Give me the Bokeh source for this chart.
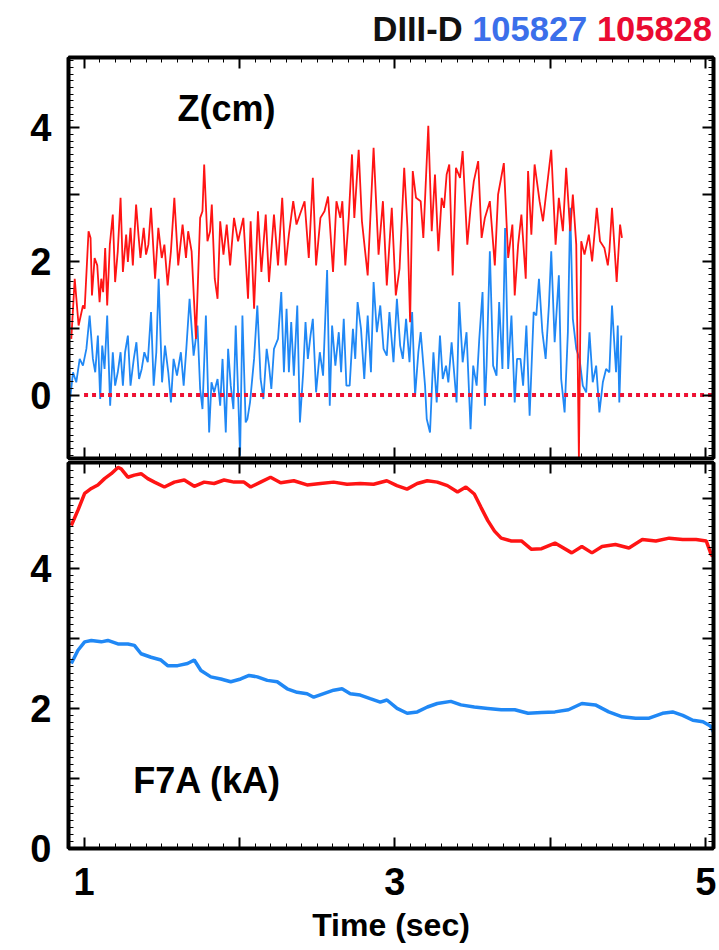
from bokeh.plotting import figure
from bokeh.models import Range1d, LinearAxis, FixedTicker, Label, Div
from bokeh.layouts import column
from bokeh.embed import file_html
from bokeh.resources import INLINE

# ---------------- data ----------------
# Z (cm), shot 105828 (red)
z_red_t = [0.918,0.940,0.965,0.993,1.004,1.029,1.042,1.051,1.068,1.085,1.100,1.111,1.123,1.136,1.149,1.166,1.185,1.200,1.217,1.235,
           1.250,1.271,1.282,1.299,1.314,1.335,1.350,1.363,1.384,1.399,1.414,1.431,1.457,1.478,1.500,1.517,1.538,1.559,1.581,1.606,
           1.634,1.656,1.670,1.692,1.720,1.747,1.762,1.773,1.794,1.811,1.822,1.841,1.859,1.876,1.897,1.918,1.940,1.965,1.991,2.025,2.055,
           2.072,2.094,2.119,2.141,2.169,2.190,2.222,2.248,2.275,2.297,2.318,2.346,2.367,2.389,2.419,2.446,2.472,2.493,2.521,2.547,
           2.570,2.602,2.624,2.649,2.662,2.681,2.703,2.724,2.739,2.767,2.788,2.825,2.863,2.895,2.923,2.948,2.980,3.006,3.030,3.060,
           3.081,3.098,3.115,3.136,3.166,3.183,3.215,
           3.237,3.258,3.280,3.301,3.316,3.333,3.350,3.372,3.393,3.419,3.436,3.466,3.487,3.508,3.536,3.558,3.579,3.611,3.643,3.664,
           3.701,3.729,3.756,3.771,3.793,3.814,3.842,3.857,3.878,3.899,3.931,3.953,3.970,4.006,4.034,4.055,4.081,4.102,4.128,4.145,
           4.167,4.184,4.199,4.220,4.248,4.269,4.299,4.320,4.348,4.370,4.380,4.397,4.427,4.449,4.461]
z_red = [0.84,1.74,1.04,1.34,1.29,2.45,2.35,1.49,2.05,1.94,1.39,1.74,1.54,2.20,1.34,2.25,2.70,1.69,2.15,2.95,
         1.84,2.40,1.99,2.50,1.94,2.85,2.40,2.05,2.50,2.10,2.25,2.80,1.74,2.50,2.05,2.25,1.64,2.15,2.95,1.94,
         2.55,2.05,2.45,2.15,0.84,2.65,2.75,3.45,2.30,2.45,2.85,1.74,1.44,2.60,2.10,2.55,1.94,2.65,2.30,2.65,1.44,
         2.60,1.29,2.75,1.84,2.70,1.69,2.70,1.94,2.95,1.94,2.40,2.90,2.55,2.70,2.90,2.05,3.25,1.94,2.65,2.75,
         2.97,1.84,2.90,2.65,2.90,1.94,2.65,3.60,2.65,3.67,2.60,1.79,3.70,2.10,2.90,1.64,2.80,1.49,1.89,3.40,
         2.50,1.09,3.35,2.95,2.90,2.35,4.03,
         2.45,3.30,2.15,2.95,2.80,3.30,3.45,1.79,3.40,3.25,3.65,2.25,2.80,3.20,3.50,2.35,2.65,2.90,1.94,3.00,
         3.47,2.05,2.55,1.49,2.25,2.70,1.74,3.35,2.40,3.45,2.90,2.60,2.95,3.67,2.25,2.95,2.45,3.40,2.45,3.00,
         2.25,-0.96,2.30,2.10,2.40,2.00,2.80,2.30,2.20,1.94,2.15,2.80,1.69,2.55,2.35]

# Z (cm), shot 105827 (blue)
z_blue_t = [0.908,0.929,0.950,0.972,0.993,1.015,1.036,1.057,1.072,1.089,1.104,1.117,1.132,1.149,1.168,1.185,1.200,1.217,1.235,1.250,
            1.264,1.282,1.299,1.320,1.337,1.354,1.371,1.388,1.410,1.431,1.448,1.465,1.480,1.502,1.521,1.542,1.559,1.576,1.598,1.623,
            1.641,1.658,1.679,1.705,1.730,1.747,1.762,1.784,1.805,1.820,1.837,1.859,1.876,1.891,1.912,1.927,1.944,1.961,1.976,1.991,
            2.004,2.019,2.040,
            2.051,2.068,2.094,2.115,2.136,2.154,2.175,2.190,2.205,2.222,2.248,2.269,2.286,2.303,2.318,2.333,2.350,2.372,2.389,2.410,
            2.425,2.440,2.457,2.472,2.493,2.517,2.538,2.564,2.581,2.596,2.617,2.639,2.654,2.671,2.688,2.709,2.730,2.745,2.760,2.782,
            2.803,2.825,2.846,2.863,2.884,2.906,2.927,2.948,2.965,2.991,3.013,3.034,3.051,3.072,3.094,3.111,3.130,3.151,3.166,3.194,
            3.205,3.226,3.248,3.269,3.290,3.308,3.329,3.344,3.365,3.397,3.414,3.436,3.461,3.487,3.504,3.526,3.543,3.564,3.579,3.590,
            3.611,3.632,3.654,3.671,3.692,3.709,3.729,3.750,3.771,3.786,3.808,3.825,3.846,3.867,3.893,3.910,3.927,3.949,3.970,3.991,
            4.006,4.028,4.055,4.070,4.092,4.113,4.128,4.145,4.167,4.188,4.209,4.231,4.252,4.273,4.295,4.316,4.338,4.359,4.380,4.397,
            4.423,4.434,4.444,4.457]
z_blue = [-0.11,0.34,0.19,0.54,0.44,0.69,1.19,0.54,0.34,0.89,-0.06,0.74,0.39,1.19,-0.16,0.64,0.14,0.34,0.64,0.14,
          0.64,0.89,0.14,0.54,0.79,0.24,0.39,0.64,0.49,1.24,0.14,0.64,1.74,0.19,0.74,0.34,-0.11,0.54,0.29,0.64,
          0.14,0.69,1.44,0.59,1.04,0.09,-0.21,1.19,-0.56,0.19,0.04,0.24,-0.16,0.54,-0.56,0.69,0.14,-0.21,1.04,0.04,
          -0.91,1.19,-0.41,
          -0.36,-0.11,0.54,1.34,0.24,-0.06,0.69,0.44,0.09,0.69,0.84,1.54,0.34,1.29,0.34,1.09,0.29,1.34,-0.41,0.34,
          1.09,0.54,0.89,1.14,0.04,0.64,0.29,1.87,-0.16,1.04,0.44,0.94,0.34,1.14,0.14,0.14,0.99,0.54,1.39,0.99,
          0.24,1.19,0.34,1.69,0.94,1.34,0.69,0.59,1.24,0.49,1.44,0.74,0.54,1.14,0.49,1.24,-0.01,0.64,0.94,0.14,
          -0.36,-0.56,0.64,-0.11,0.89,0.24,0.44,0.19,0.79,-0.11,1.39,0.49,0.94,-0.51,0.44,0.14,0.84,1.54,-0.16,0.44,
          2.15,0.44,0.29,1.39,0.39,2.50,0.39,1.19,-0.11,0.54,0.54,0.14,1.04,-0.31,1.24,1.19,1.74,0.94,0.54,1.34,
          2.15,0.79,1.79,0.24,-0.26,0.94,2.80,1.14,0.69,0.54,0.14,0.04,0.94,0.19,0.44,-0.26,0.19,0.39,0.34,1.34,
          0.34,1.04,-0.11,0.89]

# F7A (kA), shot 105828 (red)
f7a_red_t = [0.918,0.961,1.004,1.047,1.089,1.132,1.175,1.218,1.239,1.282,1.324,1.367,1.410,1.453,1.517,1.581,1.645,1.709,1.773,1.837,
             1.901,1.965,2.029,2.072,2.136,2.200,2.265,2.350,2.435,2.521,2.606,2.692,2.777,2.863,2.948,
             3.013,3.078,3.144,3.208,3.273,3.338,3.403,3.457,3.511,3.554,3.598,3.641,3.684,3.749,3.814,3.879,3.944,4.030,4.138,4.203,
             4.268,4.333,4.419,4.506,4.592,4.679,4.765,4.852,4.938,5.003,5.036,5.090]
f7a_red = [4.61,4.83,5.07,5.14,5.19,5.28,5.35,5.44,5.42,5.30,5.33,5.35,5.28,5.23,5.16,5.23,5.26,5.17,5.23,5.21,
           5.26,5.23,5.23,5.16,5.23,5.30,5.22,5.25,5.19,5.21,5.23,5.20,5.21,5.20,5.25,
           5.18,5.13,5.21,5.25,5.23,5.18,5.09,5.16,5.06,4.87,4.68,4.53,4.43,4.39,4.39,4.27,4.28,4.36,4.22,4.31,
           4.22,4.31,4.34,4.29,4.41,4.39,4.43,4.41,4.41,4.39,4.19,4.12]

# F7A (kA), shot 105827 (blue)
f7a_blue_t = [0.918,0.961,1.004,1.047,1.111,1.153,1.218,1.282,1.324,1.367,1.431,1.495,1.538,1.602,1.666,1.709,1.752,1.816,1.880,1.944,
              2.008,2.062,2.115,2.179,2.243,2.307,2.371,2.435,2.478,2.542,2.606,2.660,2.713,2.777,2.841,2.906,
              2.949,3.014,3.079,3.144,3.209,3.273,3.360,3.425,3.511,3.598,3.684,3.771,3.857,3.944,4.030,4.117,4.203,4.290,4.376,4.463,
              4.549,4.636,4.722,4.787,4.852,4.917,4.982,5.030,5.060]
f7a_blue = [2.64,2.83,2.95,2.97,2.95,2.97,2.92,2.92,2.90,2.78,2.73,2.69,2.61,2.61,2.64,2.69,2.54,2.45,2.42,2.38,
            2.42,2.47,2.45,2.40,2.38,2.28,2.23,2.21,2.16,2.21,2.26,2.28,2.21,2.19,2.14,2.09,
            2.12,2.00,1.93,1.95,2.02,2.07,2.10,2.05,2.02,2.00,1.98,1.98,1.93,1.94,1.95,1.98,2.07,2.05,1.95,1.88,
            1.86,1.86,1.93,1.95,1.90,1.83,1.81,1.75,1.62]

zero_level = 0.0
zero_line_start = 1.0

x_major = [1, 2, 3, 4, 5]
x_labels = {1: "1", 2: "", 3: "3", 4: "", 5: "5"}
z_major = [0, 1, 2, 3, 4]
z_labels = {0: "0", 1: "", 2: "2", 3: "", 4: "4"}
f_major = [0, 1, 2, 3, 4, 5]
f_labels = {0: "0", 1: "", 2: "2", 3: "", 4: "4", 5: ""}

title_parts = ["DIII-D", "105827", "105828"]
title_colors = ["#111111", "#3B6FEA", "#EA0A32"]

# ---------------- style ----------------
FONT = "Liberation Sans"
RED = "#FF1414"
BLUE = "#2088F5"
X0, X1 = 0.9, 5.05
W = 719

xr = Range1d(X0, X1)
x_minor = [round(0.9 + 0.1 * i, 2) for i in range(42)]


def style_axis(ax, show_labels, standoff=17):
    ax.axis_line_width = 4
    ax.axis_line_color = "black"
    ax.major_tick_in = 11
    ax.major_tick_out = 0
    ax.minor_tick_in = 5
    ax.minor_tick_out = 0
    ax.major_tick_line_width = 2
    ax.major_tick_line_color = "black"
    ax.minor_tick_line_width = 1
    ax.minor_tick_line_color = "black"
    ax.major_label_text_font = FONT
    ax.major_label_text_font_style = "bold"
    if show_labels:
        ax.major_label_text_color = "black"
        ax.major_label_text_font_size = "38px"
        ax.major_label_standoff = standoff
    else:
        ax.major_label_text_color = None
        ax.major_label_text_font_size = "0px"
        ax.major_label_standoff = 0


def make_fig(height, yr, border_top, border_bottom):
    p = figure(width=W, height=height, x_range=xr, y_range=yr,
               output_backend="svg", toolbar_location=None,
               x_axis_location=None, y_axis_location=None,
               min_border_left=68, min_border_right=6,
               min_border_top=border_top, min_border_bottom=border_bottom)
    p.grid.visible = False
    p.outline_line_color = "black"
    p.outline_line_width = 3
    p.background_fill_color = "white"
    p.border_fill_color = "white"
    return p


# ---------------- title (multi-coloured) ----------------
title_html = ('<div style="padding-top:9px;padding-right:7px;">'
              + " ".join('<span style="color:%s">%s</span>' % (c, t)
                         for t, c in zip(title_parts, title_colors))
              + "</div>")
title = Div(text=title_html, width=W, height=50, margin=0,
            styles={"text-align": "right", "font-family": "'Liberation Sans', sans-serif",
                    "font-weight": "bold", "font-size": "34.5px", "line-height": "40px",
                    "white-space": "nowrap"})

# ---------------- top panel: Z(cm) ----------------
p1 = make_fig(410, Range1d(-0.95, 5.05), 7, 2)
z_ticker = FixedTicker(ticks=z_major, minor_ticks=[round(-0.9 + 0.1 * i, 2) for i in range(60)])
xt = FixedTicker(ticks=x_major, minor_ticks=x_minor)
for loc, show in (("left", True), ("right", False)):
    ax = LinearAxis(ticker=z_ticker)
    style_axis(ax, show)
    if show:
        ax.major_label_overrides = z_labels
    p1.add_layout(ax, loc)
for loc in ("above", "below"):
    ax = LinearAxis(ticker=xt)
    style_axis(ax, False)
    p1.add_layout(ax, loc)

p1.line(z_blue_t, z_blue, line_color=BLUE, line_width=1.8)
p1.line(z_red_t, z_red, line_color=RED, line_width=1.8)
p1.line([zero_line_start, X1], [zero_level, zero_level], line_color="#EE1133",
        line_width=4, line_dash="4 4")

p1.add_layout(Label(x=1.916, y=4.29, text="Z(cm)", text_font=FONT, text_font_style="bold",
                    text_font_size="36px", text_align="center", text_baseline="middle",
                    text_color="black"))

# ---------------- bottom panel: F7A (kA) ----------------
p2 = make_fig(490, Range1d(0, 5.51), 2, 102)
f_ticker = FixedTicker(ticks=f_major, minor_ticks=[round(0.1 * i, 2) for i in range(1, 56)])
for loc, show in (("left", True), ("right", False)):
    ax = LinearAxis(ticker=f_ticker)
    style_axis(ax, show)
    if show:
        ax.major_label_overrides = f_labels
    p2.add_layout(ax, loc)
for loc, show in (("above", False), ("below", True)):
    ax = LinearAxis(ticker=xt)
    style_axis(ax, show, standoff=19)
    if show:
        ax.major_label_overrides = x_labels
        ax.axis_label = "Time (sec)"
        ax.axis_label_text_font = FONT
        ax.axis_label_text_font_style = "bold"
        ax.axis_label_text_font_size = "32px"
        ax.axis_label_text_color = "black"
        ax.axis_label_standoff = 9
    p2.add_layout(ax, loc)

p2.line(f7a_red_t, f7a_red, line_color=RED, line_width=3.5)
p2.line(f7a_blue_t, f7a_blue, line_color=BLUE, line_width=3.5)

p2.add_layout(Label(x=1.793, y=0.97, text="F7A (kA)", text_font=FONT, text_font_style="bold",
                    text_font_size="36px", text_align="center", text_baseline="middle",
                    text_color="black"))

layout = column(title, p1, p2, spacing=0)
open("out.html", "w").write(file_html(layout, INLINE))
